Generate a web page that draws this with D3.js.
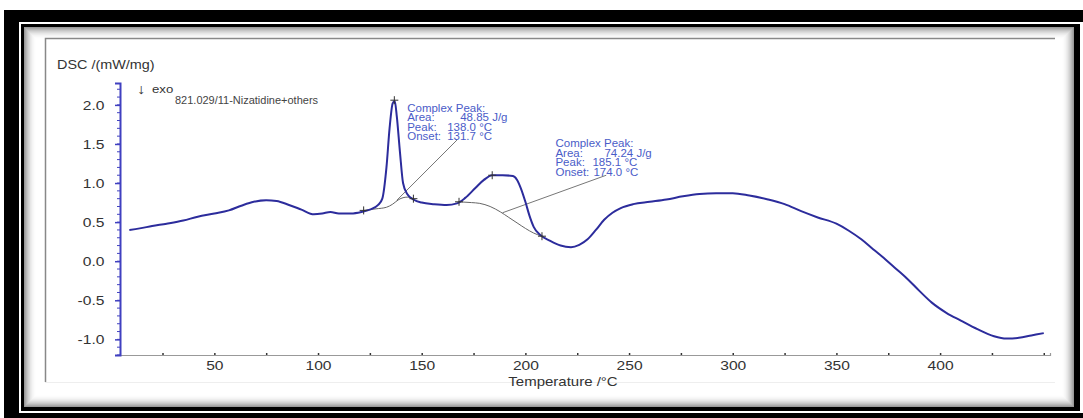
<!DOCTYPE html>
<html>
<head>
<meta charset="utf-8">
<script src="https://cdn.jsdelivr.net/npm/d3@7"></script>
<style>
  body { margin: 0; background: #fff; }
  svg { display: block; font-family: "Liberation Sans", Arial, sans-serif; }
</style>
</head>
<body>
<div id="chart"></div>
<script>
// DSC curve
var temps = [9, 14, 20, 27, 35, 42, 50, 57, 63, 69, 75, 80, 86, 92, 98, 102, 106, 110, 116, 121, 125, 129, 131,
  133, 134.5, 136, 137, 138, 139.5, 141, 143, 146, 150, 156, 162, 167, 171, 176, 180, 184, 189, 194, 196, 198,
  200, 202, 204, 207, 212, 217, 222, 226, 230, 234, 238, 242, 246, 252, 260, 268, 276, 284, 292, 300, 308, 317,
  325, 333, 341, 350, 356, 362, 367, 372, 378, 384, 390, 396, 403, 410, 418, 426, 432, 438, 444, 450];
var dsc = [0.40, 0.42, 0.45, 0.48, 0.52, 0.57, 0.61, 0.65, 0.71, 0.76, 0.78, 0.77, 0.72, 0.66, 0.60, 0.61, 0.63,
  0.61, 0.61, 0.63, 0.66, 0.72, 0.80, 1.20, 1.70, 2.02, 2.05, 1.85, 1.40, 1.00, 0.86, 0.79, 0.75, 0.73, 0.72,
  0.74, 0.81, 0.94, 1.04, 1.10, 1.10, 1.09, 1.04, 0.92, 0.76, 0.58, 0.44, 0.34, 0.26, 0.20, 0.18, 0.21, 0.28,
  0.40, 0.53, 0.62, 0.68, 0.73, 0.76, 0.79, 0.83, 0.86, 0.87, 0.87, 0.84, 0.79, 0.73, 0.64, 0.56, 0.48, 0.39,
  0.28, 0.17, 0.06, -0.08, -0.22, -0.38, -0.53, -0.66, -0.76, -0.87, -0.96, -0.99, -0.98, -0.95, -0.92];

// evaluation baselines under the two peaks
var base1T = [122, 128, 133, 136, 139, 143, 146];
var base1V = [0.65, 0.67, 0.69, 0.73, 0.79, 0.82, 0.80];
var base2T = [168, 174, 178, 183, 188, 192, 196, 200, 204, 208];
var base2V = [0.76, 0.75, 0.74, 0.70, 0.63, 0.56, 0.49, 0.42, 0.36, 0.32];

// "+" marks set by the evaluation software
var markT = [122, 136.8, 146, 168, 184, 208];
var markV = [0.65, 2.06, 0.80, 0.76, 1.10, 0.32];

// leader lines [T1, v1, T2, v2]
var leader1 = [138, 0.78, 167, 1.55];
var leader2 = [189, 0.62, 239, 1.10];

var peak1Lines = [["Complex Peak:", ""], ["Area:", "48.85 J/g"], ["Peak:", "138.0 °C"], ["Onset:", "131.7 °C"]];
var peak2Lines = [["Complex Peak:", ""], ["Area:", "74.24 J/g"], ["Peak:", "185.1 °C"], ["Onset:", "174.0 °C"]];

var xTicksMajor = [50, 100, 150, 200, 250, 300, 350, 400];
var xTicksAll = d3.range(25, 451, 25);
var yTicksMajor = [-1.0, -0.5, 0.0, 0.5, 1.0, 1.5, 2.0];
var yTicksMinor = d3.range(-12, 23, 1).map(function (d) { return d / 10; });

var width = 1083, height = 418;
var svg = d3.select("#chart").append("svg")
    .attr("width", width)
    .attr("height", height);

// picture frame
svg.append("rect").attr("x", 4).attr("y", 10).attr("width", 1079).attr("height", 408).attr("fill", "#000");
svg.append("rect").attr("x", 19).attr("y", 22).attr("width", 1064).attr("height", 391).attr("fill", "#fff");
svg.append("rect").attr("x", 21).attr("y", 24).attr("width", 1059).attr("height", 387).attr("fill", "#000");
svg.append("rect").attr("x", 24).attr("y", 27).attr("width", 1050).attr("height", 380).attr("fill", "#fff");
for (var i = 0; i < 12; i++) {
    svg.append("rect")
        .attr("x", 24 + i + 0.5).attr("y", 27 + i + 0.5)
        .attr("width", 1050 - 2 * i - 1).attr("height", 380 - 2 * i - 1)
        .attr("fill", "none")
        .attr("stroke", "#555")
        .attr("stroke-opacity", 0.6 * Math.pow(1 - i / 12, 2));
}
// plot frame lines
svg.append("path").attr("d", "M45.5,382V38.5H1055").attr("fill", "none").attr("stroke", "#888").attr("stroke-width", 1.5);
svg.append("path").attr("d", "M45,382.5H1055").attr("fill", "none").attr("stroke", "#eee").attr("stroke-width", 1);

var x = d3.scaleLinear().domain([4.5, 453]).range([120, 1050]);
var y = d3.scaleLinear().domain([-1.2, 2.28]).range([355, 83]);

// x axis
var xAxis = svg.append("g")
    .attr("transform", "translate(0," + y(-1.2) + ")")
    .call(d3.axisBottom(x).tickValues(xTicksAll).tickSize(-2).tickPadding(6)
        .tickFormat(function (d) { return xTicksMajor.indexOf(d) >= 0 ? d : ""; }));
xAxis.select(".domain").attr("stroke", "#999").attr("stroke-width", 1.2);
xAxis.selectAll(".tick line").attr("stroke", "#333").attr("stroke-width", 1.5);
xAxis.selectAll("text").attr("font-size", 13).attr("fill", "#333")
    .attr("transform", "scale(1.2,1)");

// y axis
var yAxis = svg.append("g")
    .attr("transform", "translate(" + x(4.5) + ",0)")
    .call(d3.axisLeft(y).tickValues(yTicksMajor).tickSize(5).tickPadding(8)
        .tickFormat(function (d) { return d.toFixed(1); }));
yAxis.select(".domain").attr("stroke", "#4040c0").attr("stroke-width", 2);
yAxis.selectAll(".tick line").attr("stroke", "#4040c0").attr("stroke-width", 1.5);
yAxis.selectAll("text").attr("font-size", 13).attr("fill", "#333")
    .attr("transform", "scale(1.2,1)");
svg.append("g").selectAll("line").data(yTicksMinor).enter().append("line")
    .attr("x1", x(4.5) - 3).attr("x2", x(4.5))
    .attr("y1", function (d) { return y(d); })
    .attr("y2", function (d) { return y(d); })
    .attr("stroke", "#4040c0").attr("stroke-width", 1);

// axis titles
svg.append("text").attr("transform", "translate(57,69) scale(1.2,1)")
    .attr("font-size", 12).attr("fill", "#333").text("DSC /(mW/mg)");
svg.append("text").attr("transform", "translate(563,386) scale(1.2,1)")
    .attr("text-anchor", "middle").attr("font-size", 12.5).attr("fill", "#333").text("Temperature /°C");

// exo note and sample name
svg.append("text").attr("transform", "translate(137,94) scale(1.2,1)")
    .attr("font-size", 14).attr("fill", "#333").text("\u2193");
svg.append("text").attr("transform", "translate(152,93) scale(1.2,1)")
    .attr("font-size", 11).attr("fill", "#333").text("exo");
svg.append("text").attr("transform", "translate(175,104) scale(1.1,1)")
    .attr("font-size", 10).attr("fill", "#444").text("821.029/11-Nizatidine+others");

// baselines and leader lines
var line = d3.line()
    .x(function (d) { return x(d[0]); })
    .y(function (d) { return y(d[1]); })
    .curve(d3.curveMonotoneX);
var thin = d3.line().x(function (d) { return x(d[0]); }).y(function (d) { return y(d[1]); });

svg.append("path").datum(d3.zip(base1T, base1V)).attr("d", line)
    .attr("fill", "none").attr("stroke", "#666").attr("stroke-width", 1);
svg.append("path").datum(d3.zip(base2T, base2V)).attr("d", line)
    .attr("fill", "none").attr("stroke", "#666").attr("stroke-width", 1);
[leader1, leader2].forEach(function (l) {
    svg.append("path").datum([[l[0], l[1]], [l[2], l[3]]]).attr("d", thin)
        .attr("fill", "none").attr("stroke", "#777").attr("stroke-width", 1);
});

// main curve
svg.append("path").datum(d3.zip(temps, dsc)).attr("d", line)
    .attr("fill", "none").attr("stroke", "#2c2c9c").attr("stroke-width", 2)
    .attr("stroke-linejoin", "round");

// + marks
svg.append("g").selectAll("path").data(d3.zip(markT, markV)).enter().append("path")
    .attr("d", function (d) {
        var px = x(d[0]), py = y(d[1]);
        return "M" + (px - 4) + "," + py + "H" + (px + 4) + "M" + px + "," + (py - 4) + "V" + (py + 4);
    })
    .attr("stroke", "#333").attr("stroke-width", 1);

// peak annotations
function annotate(lines, t0, v0, valueX) {
    var g = svg.append("g").attr("fill", "#4a5cc8").attr("font-size", 10);
    lines.forEach(function (r, i) {
        var py = y(v0) + i * 9.5;
        g.append("text").attr("transform", "translate(" + x(t0) + "," + py + ") scale(1.15,1)").text(r[0]);
        if (r[1]) {
            g.append("text").attr("transform", "translate(" + (x(t0) + valueX[i]) + "," + py + ") scale(1.15,1)").text(r[1]);
        }
    });
}
annotate(peak1Lines, 143, 1.91, [0, 53, 40, 40]);
annotate(peak2Lines, 214.5, 1.46, [0, 49, 37, 38]);
</script>
</body>
</html>
